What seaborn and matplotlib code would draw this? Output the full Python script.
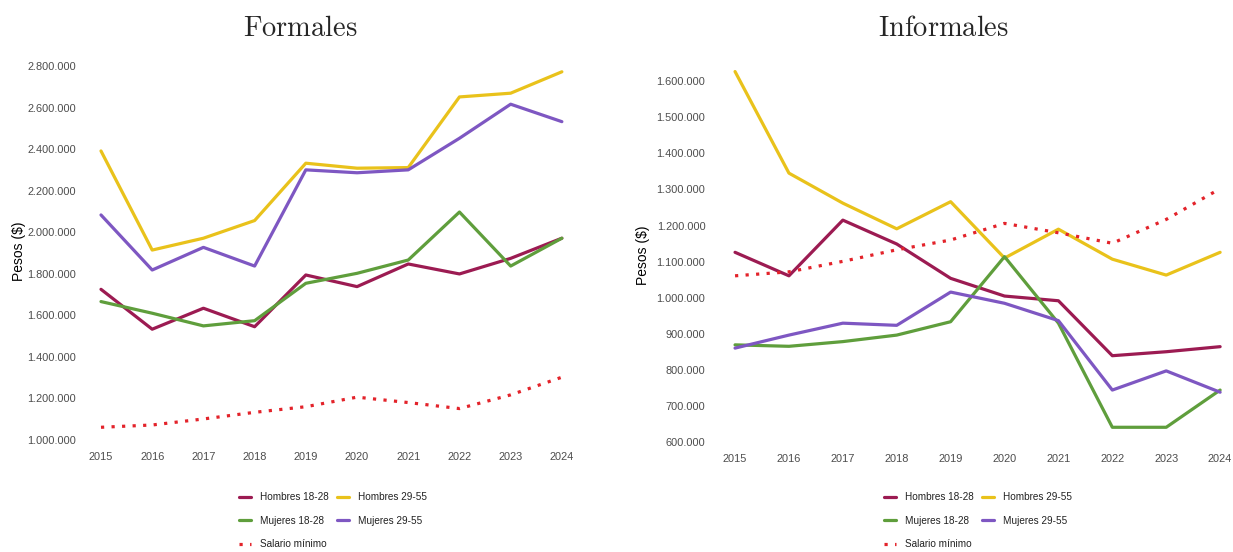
import numpy as np
import pandas as pd
import matplotlib
matplotlib.use("Agg")
import matplotlib.pyplot as plt
from matplotlib.ticker import FuncFormatter
from matplotlib.lines import Line2D
import seaborn as sns

# Data
years = [2015, 2016, 2017, 2018, 2019, 2020, 2021, 2022, 2023, 2024]
series_names = ["Hombres 18-28", "Hombres 29-55", "Mujeres 18-28", "Mujeres 29-55"]

formal_h18 = [1725000, 1533000, 1634000, 1545000, 1794000, 1738000, 1847000, 1799000, 1874000, 1971000]
formal_h29 = [2391000, 1914000, 1971000, 2056000, 2332000, 2308000, 2311000, 2651000, 2669000, 2772000]
formal_m18 = [1666000, 1610000, 1549000, 1574000, 1754000, 1802000, 1866000, 2097000, 1837000, 1971000]
formal_m29 = [2083000, 1818000, 1927000, 1837000, 2300000, 2286000, 2300000, 2452000, 2616000, 2532000]

informal_h18 = [1126000, 1061000, 1215000, 1149000, 1054000, 1005000, 992000, 840000, 851000, 865000]
informal_h29 = [1626000, 1345000, 1262000, 1191000, 1266000, 1110000, 1190000, 1107000, 1063000, 1126000]
informal_m18 = [870000, 866000, 879000, 897000, 934000, 1114000, 930000, 642000, 642000, 745000]
informal_m29 = [861000, 897000, 930000, 924000, 1016000, 985000, 937000, 745000, 798000, 739000]

salario_minimo = [1061000, 1072000, 1101000, 1133000, 1160000, 1206000, 1180000, 1151000, 1217000, 1302000]

colors = {
    "Hombres 18-28": "#9c1b52",
    "Hombres 29-55": "#e9c21b",
    "Mujeres 18-28": "#5f9e3c",
    "Mujeres 29-55": "#7e57c2",
}
salario_color = "#e3232a"


def long_df(values):
    rows = []
    for name, vals in zip(series_names, values):
        for y, v in zip(years, vals):
            rows.append({"Año": y, "Valor": v, "Serie": name})
    return pd.DataFrame(rows)


sns.set_style("white")
plt.rcParams["font.family"] = ["Liberation Sans", "DejaVu Sans"]
plt.rcParams["mathtext.fontset"] = "cm"

fig = plt.figure(figsize=(12.33, 5.52), dpi=100)
ax1 = fig.add_axes([0.0736, 0.1917, 0.3904, 0.7076])
ax2 = fig.add_axes([0.5874, 0.1886, 0.4109, 0.6975])

fmt = FuncFormatter(lambda v, p: f"{int(round(v)):,}".replace(",", "."))

panels = [
    (ax1, [formal_h18, formal_h29, formal_m18, formal_m29], (970000, 2850000),
     np.arange(1000000, 2800001, 200000), 10.5, -0.134),
    (ax2, [informal_h18, informal_h29, informal_m18, informal_m29], (585000, 1650000),
     np.arange(600000, 1600001, 100000), 13.5, -0.146),
]

for ax, vals, ylim, yticks, ypad, labx in panels:
    df = long_df(vals)
    sns.lineplot(data=df, x="Año", y="Valor", hue="Serie", palette=colors,
                 hue_order=series_names, linewidth=2.3, ax=ax, legend=False)
    sns.lineplot(x=years, y=salario_minimo, color=salario_color, linewidth=2.3,
                 linestyle=(0, (1, 2.3)), ax=ax, legend=False)
    ax.set_xlim(2014.8, 2024.2)
    ax.set_ylim(*ylim)
    ax.set_xticks(years)
    ax.set_yticks(yticks)
    ax.yaxis.set_major_formatter(fmt)
    ax.tick_params(axis="y", length=0, pad=ypad, labelsize=7.9, labelcolor="#4d4d4d")
    ax.tick_params(axis="x", length=0, pad=4.5, labelsize=7.9, labelcolor="#4d4d4d")
    ax.set_xlabel("")
    ax.set_ylabel("Pesos ($)", fontsize=10, color="black")
    ax.yaxis.set_label_coords(labx, 0.5)
    ax.grid(False)
    for s in ax.spines.values():
        s.set_visible(False)

fig.text(300 / 1233, 1 - 29 / 552, r"$\mathrm{Formales}$", ha="center", va="center", fontsize=20.5)
fig.text(943 / 1233, 1 - 29 / 552, r"$\mathrm{Informales}$", ha="center", va="center", fontsize=20.5)

# Legends (column-wise order: H18, M18, Salario | H29, M29)
handles = [
    Line2D([], [], color=colors["Hombres 18-28"], lw=2.3),
    Line2D([], [], color=colors["Mujeres 18-28"], lw=2.3),
    Line2D([], [], color=salario_color, lw=2.3, linestyle=(0, (1, 2.3))),
    Line2D([], [], color=colors["Hombres 29-55"], lw=2.3),
    Line2D([], [], color=colors["Mujeres 29-55"], lw=2.3),
]
labels = ["Hombres 18-28", "Mujeres 18-28", "Salario mínimo", "Hombres 29-55", "Mujeres 29-55"]

for cx in (333, 978):
    leg = fig.legend(handles, labels, loc="center", bbox_to_anchor=(cx / 1233, 1 - 520.5 / 552),
                     ncol=2, frameon=False, fontsize=7.2, handlelength=1.2, handletextpad=0.9,
                     columnspacing=0.8, labelspacing=1.35)
    for t in leg.get_texts():
        t.set_color("#222222")

fig.savefig("out.png", dpi=100, facecolor="white")
